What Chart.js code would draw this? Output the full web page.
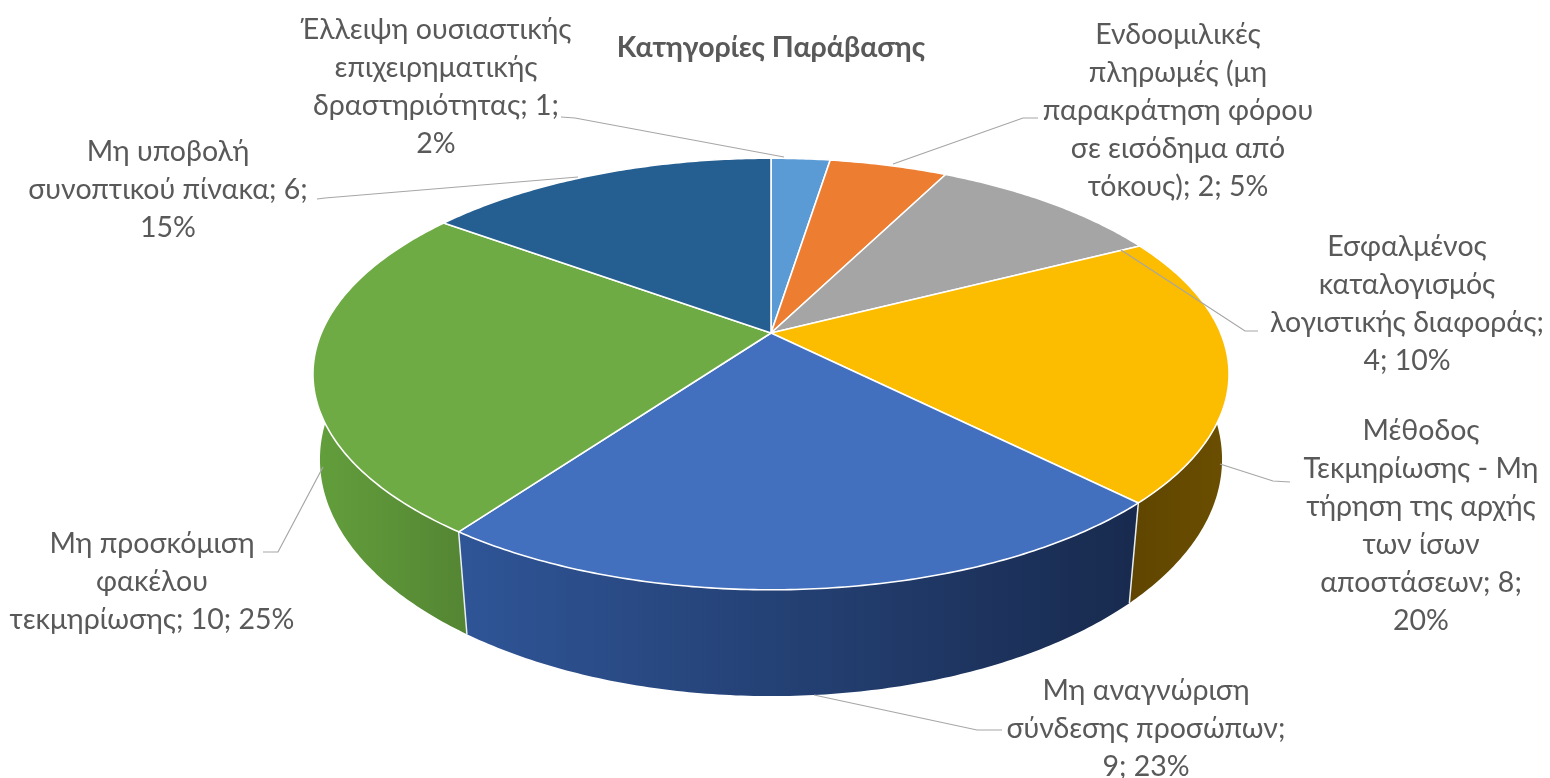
<!DOCTYPE html>
<html lang="el">
<head>
<meta charset="utf-8">
<title>Κατηγορίες Παράβασης</title>
<script src="https://cdn.jsdelivr.net/npm/chart.js@4"></script>
<style>
    html, body { margin: 0; padding: 0; background: #fff; }
    canvas { display: block; }
</style>
</head>
<body>
<canvas id="pie" width="1550" height="778"></canvas>
<script>
// --- Data ---
const categories = [
    'Έλλειψη ουσιαστικής επιχειρηματικής δραστηριότητας',
    'Ενδοομιλικές πληρωμές (μη παρακράτηση φόρου σε εισόδημα από τόκους)',
    'Εσφαλμένος καταλογισμός λογιστικής διαφοράς',
    'Μέθοδος Τεκμηρίωσης - Μη τήρηση της αρχής των ίσων αποστάσεων',
    'Μη αναγνώριση σύνδεσης προσώπων',
    'Μη προσκόμιση φακέλου τεκμηρίωσης',
    'Μη υποβολή συνοπτικού πίνακα'
];
const values = [1, 2, 4, 8, 9, 10, 6];
const percentLabels = ['2%', '5%', '10%', '20%', '23%', '25%', '15%'];
const chartTitle = 'Κατηγορίες Παράβασης';

// --- Styles ---
const topColors = ['#5b9bd5', '#ed7d31', '#a5a5a5', '#fcbc00', '#4270be', '#6fab45', '#255e91'];
const wallColors = [
    ['#3a6a94', '#3a6a94'], ['#a05520', '#a05520'], ['#707070', '#707070'],
    ['#5f4500', '#6b4e00'], ['#2f5597', '#182a4e'], ['#639f3c', '#548533'], ['#193f62', '#193f62']
];
const textColor = '#595959';
const leaderColor = '#a6a6a6';
const labelFont = '28.5px Lato, "Open Sans", sans-serif';

// Wrapped label text: each slice's name, then its value and percent on the tail
const nameLines = [
    ['Έλλειψη ουσιαστικής', 'επιχειρηματικής', 'δραστηριότητας;'],
    ['Ενδοομιλικές', 'πληρωμές (μη', 'παρακράτηση φόρου', 'σε εισόδημα από', 'τόκους);'],
    ['Εσφαλμένος', 'καταλογισμός', 'λογιστικής διαφοράς;'],
    ['Μέθοδος', 'Τεκμηρίωσης - Μη', 'τήρηση της αρχής', 'των ίσων', 'αποστάσεων;'],
    ['Μη αναγνώριση', 'σύνδεσης προσώπων;'],
    ['Μη προσκόμιση', 'φακέλου', 'τεκμηρίωσης;'],
    ['Μη υποβολή', 'συνοπτικού πίνακα;']
];

// Label placement and leader lines, one entry per slice
const labelAnchors = [[436, 30], [1178, 35], [1407, 247], [1421, 431], [1146, 691], [152, 544], [168, 152]];
const leaderPaths = [
    [[561, 117], [575, 118], [784, 157]],
    [[1038, 118], [1023, 118], [893, 164]],
    [[1258, 331], [1245, 331], [1121, 250]],
    [[1290, 482], [1273, 481], [1220, 464]],
    [[1002, 730], [977, 730], [814, 695]],
    [[263, 552], [278, 552], [323, 467]],
    [[317, 199], [325, 198], [578, 177]]
];
const lineGap = 38;

// value and percent either join the last name line or wrap below it
function labelLines(i) {
    const lines = nameLines[i].slice();
    const tail = lines.length - 1;
    if (i === 0 || i === 3) {
        lines[tail] += ' ' + values[i] + ';';
        lines.push(percentLabels[i]);
    } else if (i === 6) {
        lines[tail] += ' ' + values[i] + ';';
        lines.push(percentLabels[i]);
    } else if (i === 2 || i === 4) {
        lines.push(values[i] + '; ' + percentLabels[i]);
    } else {
        lines[tail] += ' ' + values[i] + '; ' + percentLabels[i];
    }
    return lines;
}

// --- Tilted pie geometry: a perspective view of the circle the pie controller lays out ---
const topTilt = 0.19;
const topScaleX = 2.162;
const wallTilt = 0.175;
const wallScaleX = 2.135;
const wallScaleY = 1.103;
const wallDrop = 85;

function rimPoint(arc, theta, isWall) {
    const u = Math.sin(theta);
    const v = -Math.cos(theta);
    const r = arc.outerRadius;
    if (isWall) {
        const w = 1 - wallTilt * v;
        return [arc.x + wallScaleX * r * u / w, arc.y + wallDrop + wallScaleY * r * v / w];
    }
    const w = 1 - topTilt * v;
    return [arc.x + topScaleX * r * u / w, arc.y + r * v / w];
}

function rimPath(arc, isWall) {
    const start = arc.startAngle + Math.PI / 2;
    const end = arc.endAngle + Math.PI / 2;
    const steps = Math.max(2, Math.ceil((end - start) * 90));
    const pts = [];
    for (let i = 0; i <= steps; i++) {
        pts.push(rimPoint(arc, start + (end - start) * i / steps, isWall));
    }
    return pts;
}

const tiltedPie = {
    id: 'tiltedPie',
    beforeDatasetDraw(chart) {
        const ctx = chart.ctx;
        const arcs = chart.getDatasetMeta(0).data;
        ctx.save();
        ctx.lineJoin = 'round';

        // side wall
        arcs.forEach((arc, i) => {
            const top = rimPath(arc, false);
            const low = rimPath(arc, true);
            const xs = top.concat(low).map(p => p[0]);
            const grad = ctx.createLinearGradient(Math.min(...xs), 0, Math.max(...xs), 0);
            grad.addColorStop(0, wallColors[i][0]);
            grad.addColorStop(1, wallColors[i][1]);
            ctx.beginPath();
            top.forEach((p, n) => n ? ctx.lineTo(p[0], p[1]) : ctx.moveTo(p[0], p[1]));
            low.reverse().forEach(p => ctx.lineTo(p[0], p[1]));
            ctx.closePath();
            ctx.fillStyle = grad;
            ctx.fill();
        });

        // white seams where two near-side walls meet
        ctx.strokeStyle = '#e8eef2';
        ctx.lineWidth = 1.5;
        arcs.forEach(arc => {
            const theta = arc.startAngle + Math.PI / 2;
            if (Math.cos(theta) < 0) {
                const a = rimPoint(arc, theta, false);
                const b = rimPoint(arc, theta, true);
                ctx.beginPath();
                ctx.moveTo(a[0], a[1]);
                ctx.lineTo(b[0], b[1]);
                ctx.stroke();
            }
        });

        // top faces
        arcs.forEach((arc, i) => {
            ctx.beginPath();
            ctx.moveTo(arc.x, arc.y);
            rimPath(arc, false).forEach(p => ctx.lineTo(p[0], p[1]));
            ctx.closePath();
            ctx.fillStyle = topColors[i];
            ctx.fill();
            ctx.strokeStyle = '#ffffff';
            ctx.lineWidth = 1.6;
            ctx.stroke();
        });
        ctx.restore();
        return false;
    },
    afterDatasetsDraw(chart) {
        const ctx = chart.ctx;
        ctx.save();
        // leader lines
        ctx.strokeStyle = leaderColor;
        ctx.lineWidth = 1.2;
        leaderPaths.forEach(path => {
            ctx.beginPath();
            path.forEach((p, n) => n ? ctx.lineTo(p[0], p[1]) : ctx.moveTo(p[0], p[1]));
            ctx.stroke();
        });
        // data labels
        ctx.font = labelFont;
        ctx.fillStyle = textColor;
        ctx.textAlign = 'center';
        ctx.textBaseline = 'middle';
        values.forEach((value, i) => {
            labelLines(i).forEach((line, n) => {
                ctx.fillText(line, labelAnchors[i][0], labelAnchors[i][1] + n * lineGap);
            });
        });
        ctx.restore();
    }
};

new Chart(document.getElementById('pie').getContext('2d'), {
    type: 'pie',
    plugins: [tiltedPie],
    data: {
        labels: categories,
        datasets: [{
            data: values,
            backgroundColor: topColors,
            borderWidth: 0
        }]
    },
    options: {
        responsive: false,
        animation: false,
        layout: { padding: { left: 0, right: 8, top: 0, bottom: 237 } },
        plugins: {
            legend: { display: false },
            tooltip: { enabled: false },
            title: {
                display: true,
                text: chartTitle,
                color: textColor,
                font: { family: 'Lato, "Open Sans", sans-serif', size: 28.5, weight: 'bold' },
                padding: { top: 31, bottom: 59.8 }
            }
        }
    }
});
</script>
</body>
</html>
